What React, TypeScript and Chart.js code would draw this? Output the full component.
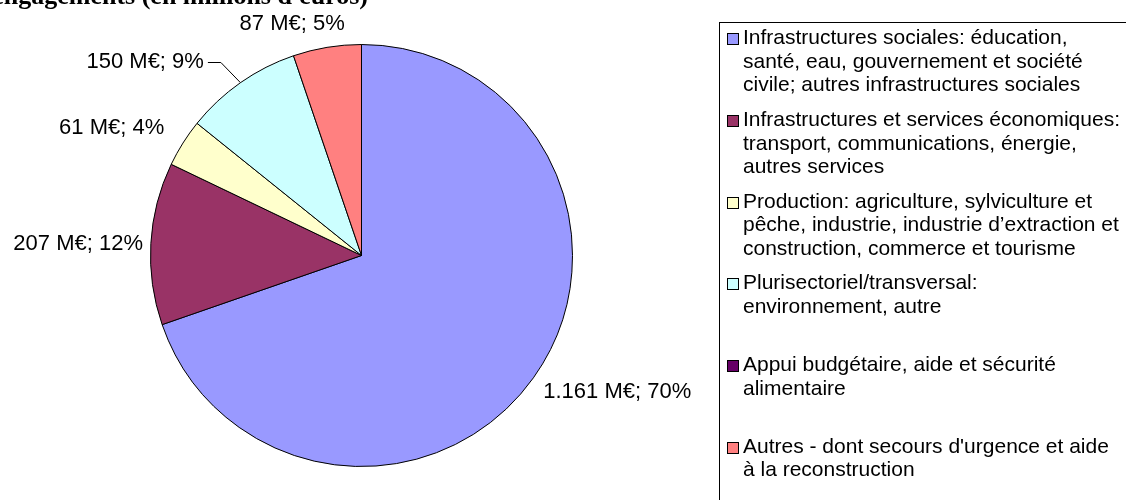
import React, { useEffect, useRef } from "react";
import { Chart, registerables } from "chart.js";

Chart.register(...registerables);

// ---- data ----
const categories = [
  "Infrastructures sociales: éducation, santé, eau, gouvernement et société civile; autres infrastructures sociales",
  "Infrastructures et services économiques: transport, communications, énergie, autres services",
  "Production: agriculture, sylviculture et pêche, industrie, industrie d’extraction et construction, commerce et tourisme",
  "Plurisectoriel/transversal: environnement, autre",
  "Appui budgétaire, aide et sécurité alimentaire",
  "Autres - dont secours d'urgence et aide à la reconstruction",
];
const legendLines = [
  ["Infrastructures sociales: éducation,", "santé, eau, gouvernement et société", "civile; autres infrastructures sociales"],
  ["Infrastructures et services économiques:", "transport, communications, énergie,", "autres services"],
  ["Production: agriculture, sylviculture et", "pêche, industrie, industrie d’extraction et", "construction, commerce et tourisme"],
  ["Plurisectoriel/transversal:", "environnement, autre"],
  ["Appui budgétaire, aide et sécurité", "alimentaire"],
  ["Autres - dont secours d'urgence et aide", "à la reconstruction"],
];
const values = [1161, 207, 61, 150, 0, 87];
const titleText = "engagements (en millions d'euros)";

// ---- style ----
const colors = ["#9999FF", "#993366", "#FFFFCC", "#CCFFFF", "#660066", "#FF8080"];
const labelShift = [[17, 5], [0, 1], [-20, -6], [-57, -7], [0, 0], [-25, -7]];
const LABEL_FONT = 22;
const LEGEND_FONT = 21;
const FONT_FAMILY = '"Liberation Sans", Arial, sans-serif';

function fmt(v: number): string {
  return String(v).replace(/\B(?=(\d{3})+(?!\d))/g, ".");
}

const overlay = {
  id: "overlay",
  afterDatasetsDraw(chart: any) {
    const ctx = chart.ctx as CanvasRenderingContext2D;
    const meta = chart.getDatasetMeta(0);
    const total = values.reduce((a, b) => a + b, 0);
    ctx.save();
    ctx.font = `${LABEL_FONT}px ${FONT_FAMILY}`;
    ctx.fillStyle = "#000";
    ctx.strokeStyle = "#000";
    ctx.lineWidth = 1;
    ctx.textAlign = "center";
    ctx.textBaseline = "middle";
    meta.data.forEach((arc: any, i: number) => {
      if (!values[i]) return;
      const p = arc.getProps(["x", "y", "startAngle", "endAngle", "outerRadius"], true);
      const mid = (p.startAngle + p.endAngle) / 2;
      const dx = Math.cos(mid);
      const dy = Math.sin(mid);
      const text = `${fmt(values[i])} M€; ${Math.round((values[i] / total) * 100)}%`;
      const w = ctx.measureText(text).width;
      const h = 17;
      const gap = 8;
      const cx = p.x + dx * (p.outerRadius + gap) + (dx * w) / 2 + labelShift[i][0];
      const cy = p.y + dy * (p.outerRadius + gap) + (dy * h) / 2 + labelShift[i][1];
      const ex = p.x + dx * p.outerRadius;
      const ey = p.y + dy * p.outerRadius;
      const nx = Math.max(cx - w / 2, Math.min(ex, cx + w / 2));
      const ny = Math.max(cy - h / 2, Math.min(ey, cy + h / 2));
      if (Math.hypot(ex - nx, ey - ny) > 20) {
        const right = ex > cx;
        const sx = right ? cx + w / 2 + 4 : cx - w / 2 - 4;
        const kx = right ? sx + 13 : sx - 13;
        ctx.beginPath();
        ctx.moveTo(sx, Math.round(cy) + 0.5);
        ctx.lineTo(kx, Math.round(cy) + 0.5);
        ctx.lineTo(ex, ey);
        ctx.stroke();
      }
      ctx.fillText(text, cx, cy);
    });
    ctx.restore();
  },
  afterDraw(chart: any) {
    const ctx = chart.ctx as CanvasRenderingContext2D;
    ctx.save();
    // title (cut off at the top-left like the reference)
    ctx.font = `bold 26px "Liberation Serif", "Times New Roman", serif`;
    ctx.fillStyle = "#000";
    ctx.textAlign = "right";
    ctx.textBaseline = "alphabetic";
    ctx.fillText(titleText, 368, 4);

    // legend box
    ctx.strokeStyle = "#000";
    ctx.lineWidth = 1;
    ctx.strokeRect(719.5, 22.5, 600, 600);
    ctx.font = `${LEGEND_FONT}px ${FONT_FAMILY}`;
    ctx.textAlign = "left";
    categories.forEach((_c, i) => {
      const base = 44.3 + i * 81.7;
      const top = Math.round(base) - 10.5;
      ctx.fillStyle = colors[i];
      ctx.fillRect(727.5, top, 11, 11);
      ctx.strokeStyle = "#000";
      ctx.strokeRect(727.5, top, 11, 11);
      ctx.fillStyle = "#000";
      legendLines[i].forEach((line, j) => {
        ctx.fillText(line, 743, base + j * 23.5);
      });
    });
    ctx.restore();
  },
};

export default function App() {
  const ref = useRef<HTMLCanvasElement | null>(null);
  useEffect(() => {
    if (!ref.current) return;
    const chart = new Chart(ref.current, {
      type: "pie",
      data: {
        labels: categories,
        datasets: [
          {
            data: values,
            backgroundColor: colors,
            borderColor: "#000",
            borderWidth: 1,
          },
        ],
      },
      options: {
        responsive: false,
        animation: false,
        layout: { padding: { left: 150, top: 44, right: 553, bottom: 33 } },
        plugins: {
          legend: { display: false },
          title: { display: false },
          tooltip: { enabled: false },
        },
      },
      plugins: [overlay],
    });
    return () => chart.destroy();
  }, []);
  return (
    <div style={{ position: "fixed", left: 0, top: 0, width: 1126, height: 500, background: "#fff" }}>
      <canvas ref={ref} width={1126} height={500} style={{ display: "block" }} />
    </div>
  );
}
